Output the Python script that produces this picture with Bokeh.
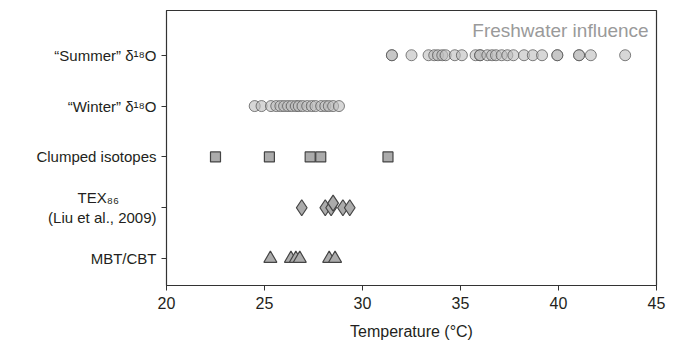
from bokeh.plotting import figure
from bokeh.models import FixedTicker, Label, Range1d
from bokeh.embed import file_html
from bokeh.resources import INLINE

# ---- data ----
categories = ["MBT/CBT", "TEX\u2088\u2086" + "\u00a0" * 9 + "\n(Liu et al., 2009)", "Clumped isotopes",
              "\u201cWinter\u201d \u03b4\u00b9\u2078O", "\u201cSummer\u201d \u03b4\u00b9\u2078O"]
cat_pos = [1, 2, 3, 4, 5]

summer_t = [31.5, 31.5, 32.5, 33.37, 33.66, 33.85, 34.07, 34.24, 34.71, 35.07, 35.77, 36.0,
            36.0, 36.37, 36.61, 36.81, 37.1, 37.39, 37.7, 38.24, 38.69, 39.16, 39.94, 39.94,
            41.05, 41.05, 41.65, 43.4]
winter_t = [24.5, 24.85, 25.33, 25.6, 25.81, 26.0, 26.2, 26.39, 26.6, 26.75, 26.94, 27.18,
            27.41, 27.6, 27.89, 28.1, 28.28, 28.5, 28.8]
clumped_t = [22.5, 25.25, 27.33, 27.87, 31.3]
tex_t = [26.9, 28.1, 28.4, 28.5, 29.0, 29.35]
tex_y = [2.0, 2.0, 2.0, 2.09, 2.0, 2.0]
mbt_t = [25.3, 26.35, 26.6, 26.8, 28.3, 28.6]

x_ticks = [20, 25, 30, 35, 40, 45]

text_color = "#231f20"
font = "Liberation Sans"

p = figure(width=700, height=347, output_backend="svg", toolbar_location=None,
           x_range=Range1d(20, 45), y_range=Range1d(0.47, 5.88),
           min_border_left=166, min_border_right=44, min_border_top=10, min_border_bottom=62)
p.grid.visible = False
p.outline_line_color = "#333333"
p.outline_line_width = 1.2
p.background_fill_color = "white"
p.border_fill_color = "white"

p.scatter(summer_t, [5] * len(summer_t), marker="circle", size=11,
          fill_color="#bdbdbd", fill_alpha=0.6, line_color="#555555", line_alpha=0.75, line_width=1)
p.scatter(winter_t, [4] * len(winter_t), marker="circle", size=11,
          fill_color="#bdbdbd", fill_alpha=0.6, line_color="#555555", line_alpha=0.75, line_width=1)
p.scatter(clumped_t, [3] * len(clumped_t), marker="square", size=10,
          fill_color="#ababab", line_color="#444444", line_width=1.2)
p.scatter(tex_t, tex_y, marker="diamond", size=16,
          fill_color="#ababab", line_color="#444444", line_width=1.2)
p.scatter(mbt_t, [1] * len(mbt_t), marker="triangle", size=13,
          fill_color="#ababab", line_color="#444444", line_width=1.2)

p.add_layout(Label(x=44.6, y=5.49, text="Freshwater influence", text_align="right",
                   text_baseline="middle", text_color="#9a9a9a", text_font_size="19px",
                   text_font=font))

p.xaxis.ticker = FixedTicker(ticks=x_ticks)
p.xaxis.axis_label = "Temperature (\u00b0C)"
p.yaxis.ticker = FixedTicker(ticks=cat_pos)
p.yaxis.major_label_overrides = {c: l for c, l in zip(cat_pos, categories)}

for ax in (p.xaxis[0], p.yaxis[0]):
    ax.axis_line_color = "#333333"
    ax.major_tick_line_color = "#333333"
    ax.major_tick_in = 0
    ax.major_tick_out = 5
    ax.minor_tick_line_color = None
    ax.major_label_text_color = text_color
    ax.major_label_text_font = font
    ax.axis_label_text_font = font
    ax.axis_label_text_font_style = "normal"
    ax.axis_label_text_color = text_color
p.xaxis.axis_label_text_font_size = "16px"
p.xaxis.major_label_text_font_size = "16px"
p.yaxis.major_label_text_font_size = "15px"
p.xaxis.major_label_standoff = 6
p.xaxis.axis_label_standoff = 11

open("out.html", "w").write(file_html(p, INLINE))
